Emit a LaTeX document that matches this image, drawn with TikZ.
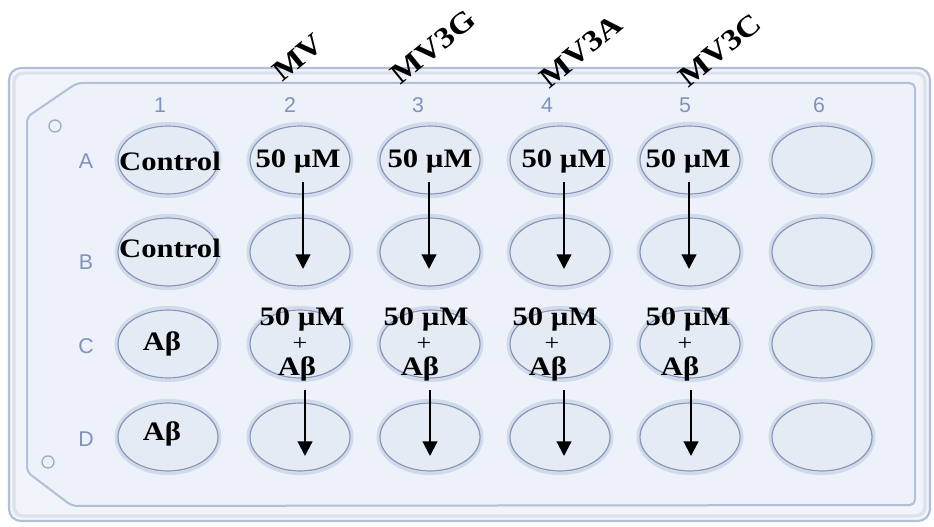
\documentclass[tikz,border=0pt]{standalone}
\usepackage{fontspec}
\setmainfont{Liberation Serif}
\newfontfamily\wellfont[FakeStretch=1.15]{Liberation Serif}
\newfontfamily\platefont{Liberation Sans}
\usetikzlibrary{arrows.meta,shapes.geometric}

\definecolor{platefill}{HTML}{F1F4FA}
\definecolor{plateinner}{HTML}{EDF1F9}
\definecolor{plateedge}{HTML}{B2BFD8}
\definecolor{wellfill}{HTML}{E5EBF5}
\definecolor{wellhalo}{HTML}{D0DAEB}
\definecolor{wellrim}{HTML}{8796B4}
\definecolor{labelblue}{HTML}{7F93BB}

\tikzset{
  wellbox/.style={ellipse, minimum width=78pt, minimum height=55pt, inner sep=0pt},
  welltext/.style={font=\wellfont\bfseries\fontsize{20}{22}\selectfont, inner sep=0pt, text=black},
  plustext/.style={font=\wellfont\fontsize{17}{19}\selectfont, inner sep=0pt, text=black},
  compound/.style={font=\wellfont\bfseries\fontsize{22}{24}\selectfont, inner sep=0pt, rotate=39, text=black},
  gridlabel/.style={font=\platefont\fontsize{16}{18}\selectfont, text=labelblue, inner sep=0pt},
  transfer/.style={line width=1.6pt, -{Triangle[length=11pt,width=11pt]}},
}

\begin{document}
\begin{tikzpicture}[x=0.75pt, y=-0.75pt]
\useasboundingbox (0,0) rectangle (934,527);
\fill[white] (0,0) rectangle (934,527);

% plate body
\draw[fill=platefill, draw=plateedge, line width=1.6pt, rounded corners=9]
  (9,68) rectangle (930,521);
\draw[draw=plateedge!45, line width=2.5pt, rounded corners=7]
  (14,73) rectangle (925,516);
\draw[fill=plateinner, draw=plateedge, line width=1.5pt, rounded corners=4]
  (77,83) -- (915,83) -- (915,505) -- (72,506) -- (27,472) -- (27,117) -- cycle;

% orientation marks
\draw[draw=plateedge!90!black, line width=1pt] (55,126) circle[radius=6];
\draw[draw=plateedge!90!black, line width=1pt] (48,462) circle[radius=6];

% column numbers and row letters
\foreach \n/\x in {1/160, 2/290, 3/418, 4/547, 5/685, 6/819}
  \node[gridlabel] (col\n) at (\x,105) {\n};
\foreach \r/\y in {A/161, B/262, C/346, D/439}
  \node[gridlabel] (row\r) at (86,\y) {\r};

% wells
\foreach \r/\y in {A/160, B/252, C/344, D/437}{
  \foreach \c/\x in {1/168, 2/300, 3/430, 4/560, 5/690, 6/822}{
    \node[wellbox, fill=wellfill, draw=wellhalo, line width=2.2pt] (w\r\c) at (\x,\y) {};
    \draw[wellrim, line width=0.9pt] (\x,\y) ellipse[x radius=50, y radius=34];
  }
}

% compound labels
\node[compound] (lbl2) at (298,58) {MV};
\node[compound] (lbl3) at (433,47) {MV3G};
\node[compound] (lbl4) at (581,51) {MV3A};
\node[compound] (lbl5) at (720,50) {MV3C};

% controls
\node[welltext] (tA1) at (170,161) {Control};
\node[welltext] (tB1) at (170,248) {Control};
\node[welltext] (tC1) at (162,344) {Aβ};
\node[welltext] (tD1) at (162,434) {Aβ};

% treated wells, row A
\node[welltext] (tA2) at (298,161) {50 µM};
\node[welltext] (tA3) at (430,161) {50 µM};
\node[welltext] (tA4) at (564,161) {50 µM};
\node[welltext] (tA5) at (688,161) {50 µM};

% treated wells with Abeta, row C
\foreach \c/\xa/\xb/\xc in {2/302/300/297, 3/426/424/420, 4/555/552/548, 5/688/685/680}{
  \node[welltext] (tC\c) at (\xa,319) {50 µM};
  \node[plustext] (pC\c) at (\xb,344) {+};
  \node[welltext] (aC\c) at (\xc,369) {Aβ};
}

% transfer arrows A -> B
\foreach \c/\x in {2/303, 3/429, 4/564, 5/689}{
  \coordinate (sAB\c) at (\x,182);
  \coordinate (eAB\c) at (\x,269);
  \draw[transfer] (sAB\c) -- (eAB\c);
}
% transfer arrows C -> D
\foreach \c/\x in {2/305, 3/430, 4/564, 5/691}{
  \coordinate (sCD\c) at (\x,390);
  \coordinate (eCD\c) at (\x,456);
  \draw[transfer] (sCD\c) -- (eCD\c);
}
\end{tikzpicture}
\end{document}
